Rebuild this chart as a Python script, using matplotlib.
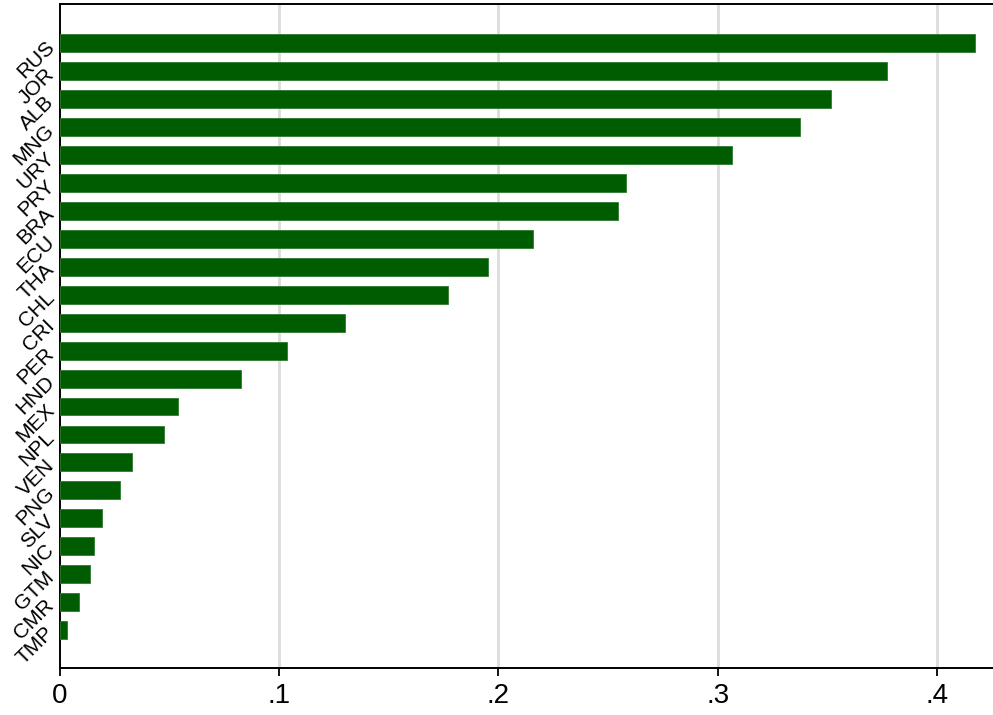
import matplotlib
matplotlib.use("Agg")
import matplotlib.pyplot as plt

countries = ["RUS", "JOR", "ALB", "MNG", "URY", "PRY", "BRA", "ECU", "THA", "CHL",
             "CRI", "PER", "HND", "MEX", "NPL", "VEN", "PNG", "SLV", "NIC", "GTM",
             "CMR", "TMP"]
values = [0.417, 0.377, 0.3513, 0.3375, 0.3066, 0.2579, 0.2544, 0.2156, 0.1952, 0.1771,
          0.1302, 0.1036, 0.0827, 0.0542, 0.0475, 0.0331, 0.0276, 0.0194, 0.0159, 0.0141,
          0.0088, 0.0034]
xticks = [0, 0.1, 0.2, 0.3, 0.4]
xticklabels = ["0", ".1", ".2", ".3", ".4"]

plt.rcParams["font.family"] = ["Liberation Sans", "DejaVu Sans"]

fig = plt.figure(figsize=(9.93, 7.15), dpi=100)
W, H = 993, 715
ax = fig.add_axes([59.5 / W, 1 - 668 / H, 1 - 59.5 / W + 0.002, (668 - 4) / H])

pos = list(range(len(countries)))
ax.barh(pos, values, height=0.64, color="#005c00", edgecolor="#2f7a2f",
        linewidth=0.6, zorder=3)

ax.set_ylim(22.36, -1.41)
ax.set_xlim(0, 0.4262)

ax.set_xticks(xticks)
ax.set_xticklabels(xticklabels, fontsize=20)
ax.tick_params(axis="x", length=6, width=1.3, pad=5, color="black")

ax.set_yticks(pos)
ax.set_yticklabels(countries, fontsize=15, rotation=45,
                   ha="right", va="center", rotation_mode="anchor")
ax.tick_params(axis="y", length=0, pad=6)

for t in xticks[1:]:
    ax.axvline(t, color="#dcdcdc", linewidth=2, zorder=1)

for side in ["top", "left", "bottom"]:
    ax.spines[side].set_linewidth(1.4)
    ax.spines[side].set_color("black")
ax.spines["right"].set_visible(False)

fig.savefig("out.png", dpi=100, facecolor="white")
